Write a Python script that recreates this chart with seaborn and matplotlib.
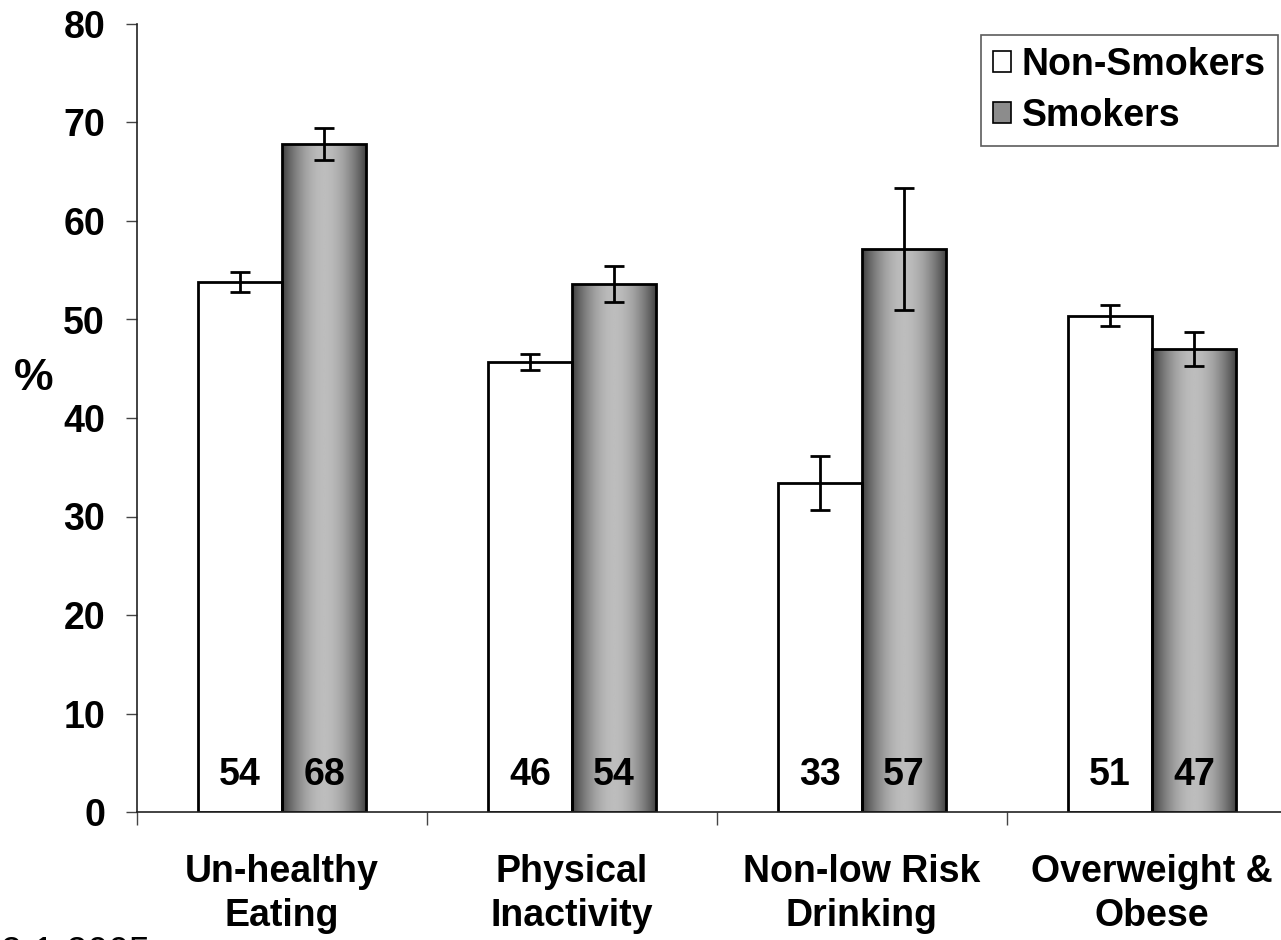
import numpy as np
import pandas as pd
import matplotlib
matplotlib.use('Agg')
import matplotlib.pyplot as plt
import matplotlib.patches as mpatches
from matplotlib.ticker import FixedLocator
import seaborn as sns

categories = ['Un-healthy\nEating', 'Physical\nInactivity', 'Non-low Risk\nDrinking', 'Overweight &\nObese']
groups = ['Non-Smokers', 'Smokers']
non_smokers = [53.8, 45.7, 33.4, 50.4]
smokers = [67.8, 53.6, 57.2, 47.0]
non_smokers_err = [1.0, 0.8, 2.7, 1.1]
smokers_err = [1.6, 1.8, 6.2, 1.7]
non_smokers_lbl = ['54', '46', '33', '51']
smokers_lbl = ['68', '54', '57', '47']
yticks = [0, 10, 20, 30, 40, 50, 60, 70, 80]

df = pd.DataFrame({
    'category': categories * 2,
    'group': [groups[0]] * 4 + [groups[1]] * 4,
    'value': non_smokers + smokers,
})

sns.set_style('white')
plt.rcParams['font.family'] = ['Liberation Sans', 'DejaVu Sans']
plt.rcParams['text.color'] = 'black'
plt.rcParams['axes.labelcolor'] = 'black'

FS = 27

fig = plt.figure(figsize=(12.81, 9.40), dpi=100)
ax = fig.add_axes([137 / 1281, 128 / 940, 1160 / 1281, 788 / 940])

sns.barplot(data=df, x='category', y='value', hue='group', hue_order=groups,
            order=categories, palette=['white', '#999999'], width=0.58, gap=0,
            edgecolor='black', linewidth=2, errorbar=None, legend=False,
            saturation=1, ax=ax)

# bars come out grouped by hue: first non-smokers, then smokers
bars = list(ax.patches)
ns_bars = bars[:4]
s_bars = bars[4:8]

# gray cylinder-like gradient on smoker bars
t = np.linspace(0, 1, 200)
profile = 0.24 + 0.50 * np.sin(np.pi * t) ** 0.9
grad = np.tile(profile, (2, 1))
for p in s_bars:
    x0, w, h = p.get_x(), p.get_width(), p.get_height()
    im = ax.imshow(grad, cmap='gray', vmin=0, vmax=1, aspect='auto',
                   extent=[x0, x0 + w, 0, h], zorder=0.9, interpolation='bilinear')
    im.set_clip_path(p)
    p.set_facecolor('none')
    p.set_zorder(1)

for bl, vals, errs, lbls in [(ns_bars, non_smokers, non_smokers_err, non_smokers_lbl),
                             (s_bars, smokers, smokers_err, smokers_lbl)]:
    xs = [p.get_x() + p.get_width() / 2 for p in bl]
    ax.errorbar(xs, vals, yerr=errs, fmt='none', ecolor='black', elinewidth=2,
                capsize=7, capthick=2, zorder=3)
    for x, l in zip(xs, lbls):
        ax.text(x, 2.7, l, ha='center', va='baseline', fontsize=FS,
                fontweight='bold', zorder=4)

ax.set_xlim(-0.5, 3.5)
ax.set_ylim(0, 80)
ax.set_yticks(yticks)
ax.set_yticklabels([str(v) for v in yticks], fontsize=FS, fontweight='bold')
ax.set_xticks(range(4))
ax.set_xticklabels(categories, fontsize=FS, fontweight='bold', linespacing=1.3)
ax.xaxis.set_minor_locator(FixedLocator([-0.5, 0.5, 1.5, 2.5, 3.5]))
ax.tick_params(axis='x', which='major', length=0, pad=30, labelcolor='black')
ax.tick_params(axis='x', which='minor', length=9.5, width=1, color='#444444', direction='out', bottom=True)
ax.tick_params(axis='y', length=8, width=1, color='#444444', direction='out', left=True,
               pad=15, labelcolor='black')
ax.set_xlabel('')
ax.set_ylabel('%', fontsize=32, fontweight='bold', rotation=0, ha='center', va='center')
ax.yaxis.set_label_coords((34 - 137) / 1160, (812 - 378) / 788)

for s in ['top', 'right']:
    ax.spines[s].set_visible(False)
for s in ['left', 'bottom']:
    ax.spines[s].set_color('#222222')
    ax.spines[s].set_linewidth(1.2)

handles = [mpatches.Patch(facecolor='white', edgecolor='black', linewidth=1.2, label=groups[0]),
           mpatches.Patch(facecolor='#8c8c8c', edgecolor='black', linewidth=1.2, label=groups[1])]
leg = fig.legend(handles=handles, loc='upper right', bbox_to_anchor=(1278 / 1281, 1 - 35 / 940),
                 borderaxespad=0, prop={'weight': 'bold', 'size': FS},
                 frameon=True, fancybox=False, handlelength=0.48, handleheight=0.48,
                 handletextpad=0.3, labelspacing=0.4, borderpad=0.32)
leg.get_frame().set_edgecolor('#333333')
leg.get_frame().set_linewidth(1.2)

fig.text(0.0, -0.026, '2-1-2005', fontsize=FS, ha='left', va='baseline')

fig.savefig('out.png', dpi=100)
